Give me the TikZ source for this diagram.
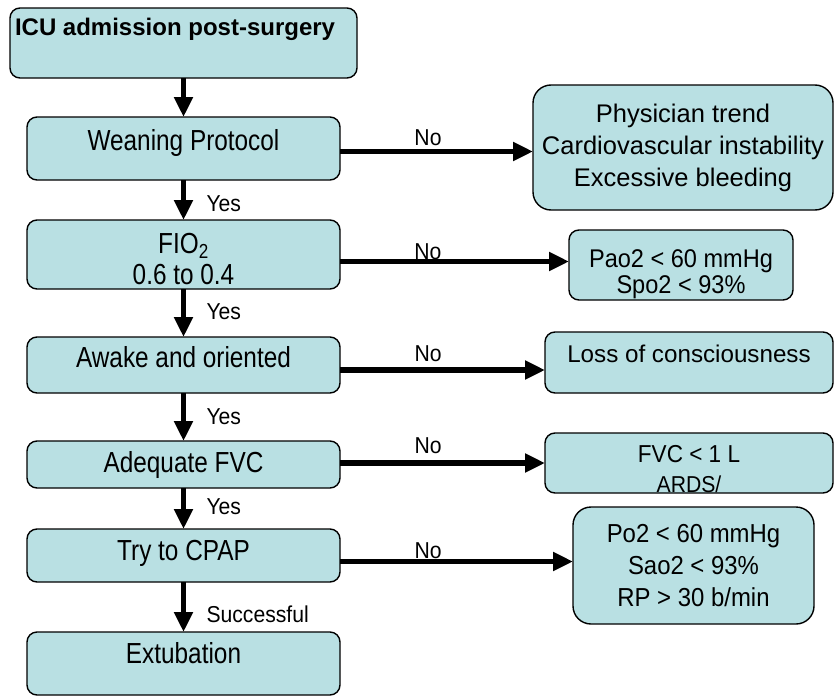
\documentclass[tikz,border=0pt]{standalone}
\usepackage{fontspec}
\setmainfont{Liberation Sans}[FakeStretch=0.92]
\newfontfamily\narrowfont{Liberation Sans}[FakeStretch=0.84]
\newfontfamily\titlefont{Liberation Sans}
\usepackage{xcolor}
\usetikzlibrary{arrows.meta,calc}
\definecolor{boxfill}{RGB}{185,224,227}

\begin{document}
\begin{tikzpicture}[x=1pt, y=1pt, yscale=-1, inner sep=0pt, outer sep=0pt,
    box/.style={draw=black, line width=1.4pt, fill=boxfill, rounded corners=10pt,
      anchor=north west, align=center, font=\fontsize{25.5}{31}\selectfont},
    leftbox/.style={box, minimum width=313pt, font=\narrowfont\fontsize{29}{31}\selectfont},
    arr/.style={line width=5.5pt, -{Triangle[length=20pt,width=18pt]}},
    lbl/.style={font=\fontsize{23}{28}\selectfont},
    yeslbl/.style={lbl, anchor=west, xshift=23pt}]
\useasboundingbox (0,0) rectangle (835,696);

% left column
\node[box, minimum width=347pt, text height=27pt, text depth=43pt, inner xsep=5pt,
  font=\titlefont\bfseries\fontsize{24}{28}\selectfont] (icu) at (10,8)
  {\makebox[337pt][l]{ICU admission post-surgery}};
\node[leftbox, text height=33pt, text depth=30pt] (wean) at (27,117) {Weaning Protocol};
\node[leftbox, text height=64pt, text depth=5pt] (fio) at (27,220) {FIO\textsubscript{2}\\0.6 to 0.4};
\node[leftbox, text height=30pt, text depth=26pt] (awake) at (27,337) {Awake and oriented};
\node[leftbox, text height=31pt, text depth=16pt] (fvc) at (27,441) {Adequate FVC};
\node[leftbox, text height=31pt, text depth=22pt] (cpap) at (27,529) {Try to CPAP};
\node[leftbox, text height=31pt, text depth=32pt] (extub) at (27,632) {Extubation};

% right column
\node[box, rounded corners=18pt, minimum width=300pt, minimum height=125pt,
  font=\titlefont\fontsize{25.5}{32}\selectfont] (trend) at (533,85)
  {Physician trend\\Cardiovascular instability\\Excessive bleeding};
\node[box, minimum width=224pt, text height=63pt, text depth=7pt,
  font=\fontsize{25.6}{26}\selectfont] (hypox) at (569,230)
  {Pao2 < 60 mmHg\\Spo2 < 93\%};
\node[box, minimum width=288pt, text height=30pt, text depth=31pt,
  font=\titlefont\fontsize{24.2}{28}\selectfont] (conc) at (545,332) {Loss of consciousness};
\node[box, minimum width=288pt, text height=59pt, text depth=1pt,
  font=\fontsize{24.5}{30}\selectfont] (lowfvc) at (545,433)
  {FVC < 1 L\\{\fontsize{23}{24}\selectfont ARDS/}};
\node[box, rounded corners=18pt, minimum width=241pt, minimum height=117pt,
  font=\fontsize{26}{32}\selectfont] (fail) at (573,507)
  {Po2 < 60 mmHg\\Sao2 < 93\%\\RP > 30 b/min};

% yes arrows
\draw[arr] (icu) -- (wean);
\draw[arr] (wean) -- node[yeslbl, pos=0.6] {Yes} (fio);
\draw[arr] (fio) -- node[yeslbl, pos=0.48] {Yes} (awake);
\draw[arr] (awake) -- node[yeslbl, pos=0.5] {Yes} (fvc);
\draw[arr] (fvc) -- node[yeslbl, pos=0.46] {Yes} (cpap);
\draw[arr] (cpap) -- node[yeslbl, pos=0.64] {Successful} (extub);

% no arrows
\coordinate (n1) at ($(wean.east)+(0,3)$);
\coordinate (n2) at ($(fio.east)+(0,7)$);
\coordinate (n3) at ($(awake.east)+(0,5)$);
\coordinate (n4) at ($(fvc.east)+(0,-1.5)$);
\coordinate (n5) at ($(cpap.east)+(0,6)$);
\draw[arr] (n1) -- (n1 -| trend.west) node[lbl, pos=0.456, yshift=13.5pt] {No};
\draw[arr] (n2) -- (n2 -| hypox.west) node[lbl, pos=0.384, yshift=10pt] {No};
\draw[arr] (n3) -- (n3 -| conc.west) node[lbl, pos=0.43, yshift=16pt] {No};
\draw[arr] (n4) -- (n4 -| lowfvc.west) node[lbl, pos=0.43, yshift=17pt] {No};
\draw[arr] (n5) -- (n5 -| fail.west) node[lbl, pos=0.378, yshift=11pt] {No};
\end{tikzpicture}
\end{document}
